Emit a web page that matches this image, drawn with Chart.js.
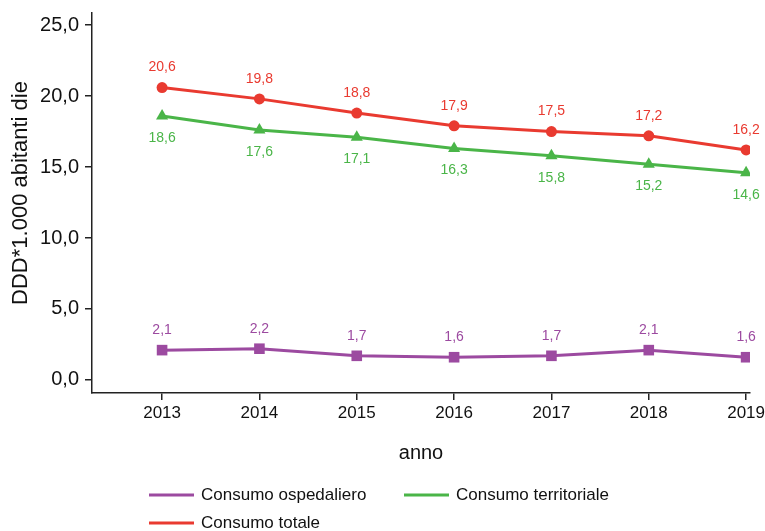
<!DOCTYPE html>
<html>
<head>
<meta charset="utf-8">
<script src="https://cdn.jsdelivr.net/npm/chart.js@4/dist/chart.umd.min.js"></script>
<style>
  html, body { margin: 0; padding: 0; background: #fff; }
  #wrap { width: 765px; height: 531px; }
</style>
</head>
<body>
<div id="wrap"><canvas id="chart" width="765" height="531"></canvas></div>
<script>
const years = [2013, 2014, 2015, 2016, 2017, 2018, 2019];
const consumoOspedaliero = [2.1, 2.2, 1.7, 1.6, 1.7, 2.1, 1.6];
const consumoTerritoriale = [18.6, 17.6, 17.1, 16.3, 15.8, 15.2, 14.6];
const consumoTotale = [20.6, 19.8, 18.8, 17.9, 17.5, 17.2, 16.2];
const yTicks = [0, 5, 10, 15, 20, 25];
const yTitle = 'DDD*1.000 abitanti die';

const PURPLE = '#9c4aa0';
const GREEN = '#4ab548';
const RED = '#e93a30';
const FONT = "'Liberation Sans', Arial, sans-serif";

const fmt = v => v.toFixed(1).replace('.', ',');
const toPoints = arr => arr.map((v, i) => ({ x: years[i], y: v }));

// value labels over / under each point
const valueLabels = {
    id: 'valueLabels',
    afterDatasetsDraw(chart) {
        const ctx = chart.ctx;
        ctx.save();
        ctx.font = '14px ' + FONT;
        ctx.textAlign = 'center';
        ctx.textBaseline = 'middle';
        chart.data.datasets.forEach((ds, i) => {
            const meta = chart.getDatasetMeta(i);
            ctx.fillStyle = ds.borderColor;
            meta.data.forEach((pt, j) => {
                const dy = ds.labelPos === 'below' ? 22 : -20;
                ctx.fillText(fmt(ds.data[j].y), pt.x, pt.y + dy);
            });
        });
        ctx.restore();
    }
};

// y title (sits a little above the middle of the axis) and a two column legend
const extras = {
    id: 'extras',
    afterDraw(chart) {
        const ctx = chart.ctx;
        ctx.save();
        ctx.fillStyle = '#111';
        ctx.font = '22px ' + FONT;
        ctx.textAlign = 'center';
        ctx.textBaseline = 'middle';
        ctx.translate(21, 193);
        ctx.rotate(-Math.PI / 2);
        ctx.fillText(yTitle, 0, 0);
        ctx.restore();

        const items = [
            { ds: 0, x: 149, y: 495 },
            { ds: 1, x: 404, y: 495 },
            { ds: 2, x: 149, y: 523 }
        ];
        ctx.save();
        ctx.font = '17px ' + FONT;
        ctx.textBaseline = 'middle';
        ctx.textAlign = 'left';
        items.forEach(it => {
            const ds = chart.data.datasets[it.ds];
            ctx.strokeStyle = ds.borderColor;
            ctx.lineWidth = 3;
            ctx.beginPath();
            ctx.moveTo(it.x, it.y);
            ctx.lineTo(it.x + 45, it.y);
            ctx.stroke();
            ctx.fillStyle = '#111';
            ctx.fillText(ds.label, it.x + 52, it.y);
        });
        ctx.restore();
    }
};

new Chart(document.getElementById('chart'), {
    type: 'line',
    data: {
        datasets: [{
            label: 'Consumo ospedaliero',
            data: toPoints(consumoOspedaliero),
            borderColor: PURPLE,
            backgroundColor: PURPLE,
            pointStyle: 'rect',
            pointRadius: 7.5,
            labelPos: 'above'
        }, {
            label: 'Consumo territoriale',
            data: toPoints(consumoTerritoriale),
            borderColor: GREEN,
            backgroundColor: GREEN,
            pointStyle: 'triangle',
            pointRadius: 7,
            labelPos: 'below'
        }, {
            label: 'Consumo totale',
            data: toPoints(consumoTotale),
            borderColor: RED,
            backgroundColor: RED,
            pointStyle: 'circle',
            pointRadius: 5.5,
            labelPos: 'above'
        }]
    },
    options: {
        responsive: false,
        animation: false,
        layout: { padding: { top: 13, right: 15, bottom: 58, left: 0 } },
        elements: {
            line: { borderWidth: 3, tension: 0 },
            point: { borderWidth: 0, hoverRadius: 6 }
        },
        plugins: {
            legend: { display: false },
            tooltip: { enabled: false }
        },
        scales: {
            x: {
                type: 'linear',
                min: 2012.28,
                max: 2019.04,
                afterBuildTicks: s => { s.ticks = years.map(v => ({ value: v })); },
                afterFit: s => { s.height = 80; s.paddingLeft = 0; s.paddingRight = 0; },
                border: { display: true, color: '#222', width: 1.5 },
                grid: { drawOnChartArea: false, drawTicks: true, tickLength: 7, color: '#222', lineWidth: 1.5 },
                ticks: {
                    color: '#111',
                    font: { family: FONT, size: 17 },
                    padding: 3,
                    maxRotation: 0,
                    autoSkip: false,
                    callback: v => String(v)
                },
                title: {
                    display: true,
                    text: 'anno',
                    color: '#111',
                    font: { family: FONT, size: 20 },
                    padding: { top: 0, bottom: 8 }
                }
            },
            y: {
                min: -0.92,
                max: 25.85,
                afterBuildTicks: s => { s.ticks = yTicks.map(v => ({ value: v })); },
                afterFit: s => { s.width = 92; s.paddingTop = 0; s.paddingBottom = 0; },
                border: { display: true, color: '#222', width: 1.5 },
                grid: { drawOnChartArea: false, drawTicks: true, tickLength: 7, color: '#222', lineWidth: 1.5 },
                ticks: {
                    color: '#111',
                    font: { family: FONT, size: 20 },
                    padding: 6,
                    callback: v => fmt(v)
                }
            }
        }
    },
    plugins: [valueLabels, extras]
});
</script>
</body>
</html>
